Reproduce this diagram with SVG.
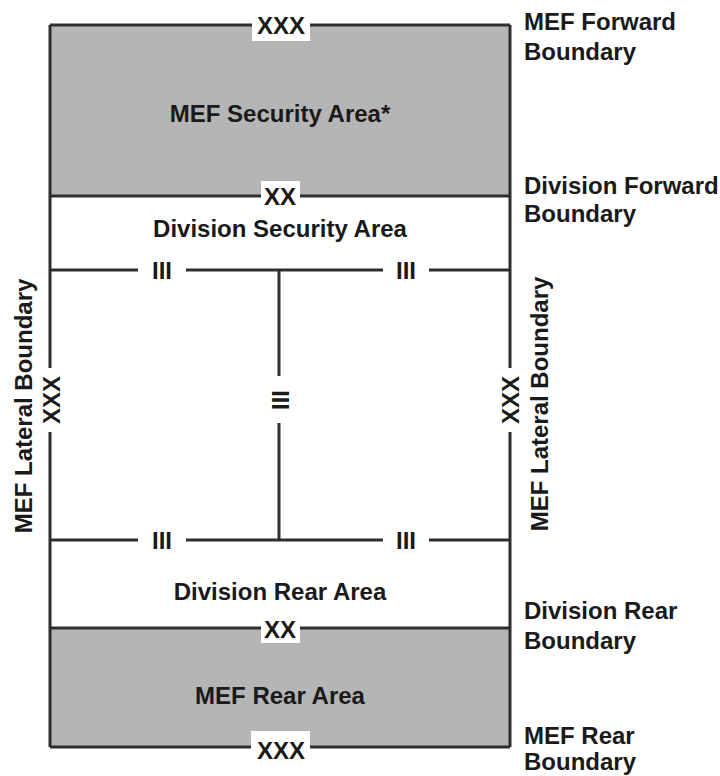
<svg xmlns="http://www.w3.org/2000/svg" width="720" height="776" viewBox="0 0 720 776">
<style>
.t{font-family:"Liberation Sans",Arial,sans-serif;font-weight:bold;font-size:24px;fill:#1a1a1a}
.c{text-anchor:middle;dominant-baseline:central}
.ln{stroke:#2e2e2e;stroke-width:3;fill:none}
.gray{fill:#b5b5b5}
.wb{fill:#ffffff}
</style>
<rect width="720" height="776" fill="#ffffff"/>
<g id="mef-security-area">
<rect class="gray" x="50" y="25" width="460" height="171"/>
<text class="t c" x="280" y="113">MEF Security Area*</text>
</g>
<g id="division-security-area">
<text class="t c" x="280" y="228">Division Security Area</text>
</g>
<g id="division-rear-area">
<text class="t c" x="280" y="591">Division Rear Area</text>
</g>
<g id="mef-rear-area">
<rect class="gray" x="50" y="628" width="460" height="119"/>
<text class="t c" x="280" y="695">MEF Rear Area</text>
</g>
<g id="connectors">
<line class="ln" x1="50" y1="25" x2="510" y2="25"/>
<line class="ln" x1="50" y1="196" x2="510" y2="196"/>
<line class="ln" x1="50" y1="628" x2="510" y2="628"/>
<line class="ln" x1="50" y1="747" x2="510" y2="747"/>
<line class="ln" x1="50" y1="25" x2="50" y2="368"/>
<line class="ln" x1="50" y1="432" x2="50" y2="747"/>
<line class="ln" x1="510" y1="25" x2="510" y2="368"/>
<line class="ln" x1="510" y1="432" x2="510" y2="747"/>
<line class="ln" x1="50" y1="270" x2="138" y2="270"/>
<line class="ln" x1="186" y1="270" x2="383" y2="270"/>
<line class="ln" x1="429" y1="270" x2="510" y2="270"/>
<line class="ln" x1="50" y1="540" x2="138" y2="540"/>
<line class="ln" x1="186" y1="540" x2="383" y2="540"/>
<line class="ln" x1="429" y1="540" x2="510" y2="540"/>
<line class="ln" x1="279" y1="270" x2="279" y2="376"/>
<line class="ln" x1="279" y1="423" x2="279" y2="540"/>
</g>
<g id="boundary-labels">
<rect class="wb" x="252" y="12" width="58" height="29"/>
<text class="t c" x="281" y="25">XXX</text>
<rect class="wb" x="261" y="181" width="39" height="28"/>
<text class="t c" x="280" y="196">XX</text>
<rect class="wb" x="261" y="614" width="39" height="29"/>
<text class="t c" x="280" y="629">XX</text>
<rect class="wb" x="251" y="731" width="59" height="30"/>
<text class="t c" x="281" y="750">XXX</text>
<text class="t c" x="162" y="270">III</text>
<text class="t c" x="406" y="270">III</text>
<text class="t c" x="162" y="540">III</text>
<text class="t c" x="406" y="540">III</text>
<text class="t c" transform="translate(280,400) rotate(-90)">III</text>
<text class="t c" transform="translate(51,400) rotate(-90)">XXX</text>
<text class="t c" transform="translate(510,400) rotate(-90)">XXX</text>
<text class="t c" transform="translate(23,406) rotate(-90)">MEF Lateral Boundary</text>
<text class="t c" transform="translate(539,404) rotate(-90)">MEF Lateral Boundary</text>
</g>
<g id="right-labels">
<text class="t" x="524" y="30">MEF Forward</text>
<text class="t" x="524" y="60">Boundary</text>
<text class="t" x="524" y="194">Division Forward</text>
<text class="t" x="524" y="222">Boundary</text>
<text class="t" x="524" y="619">Division Rear</text>
<text class="t" x="524" y="649">Boundary</text>
<text class="t" x="524" y="744">MEF Rear</text>
<text class="t" x="524" y="770">Boundary</text>
</g>
</svg>
